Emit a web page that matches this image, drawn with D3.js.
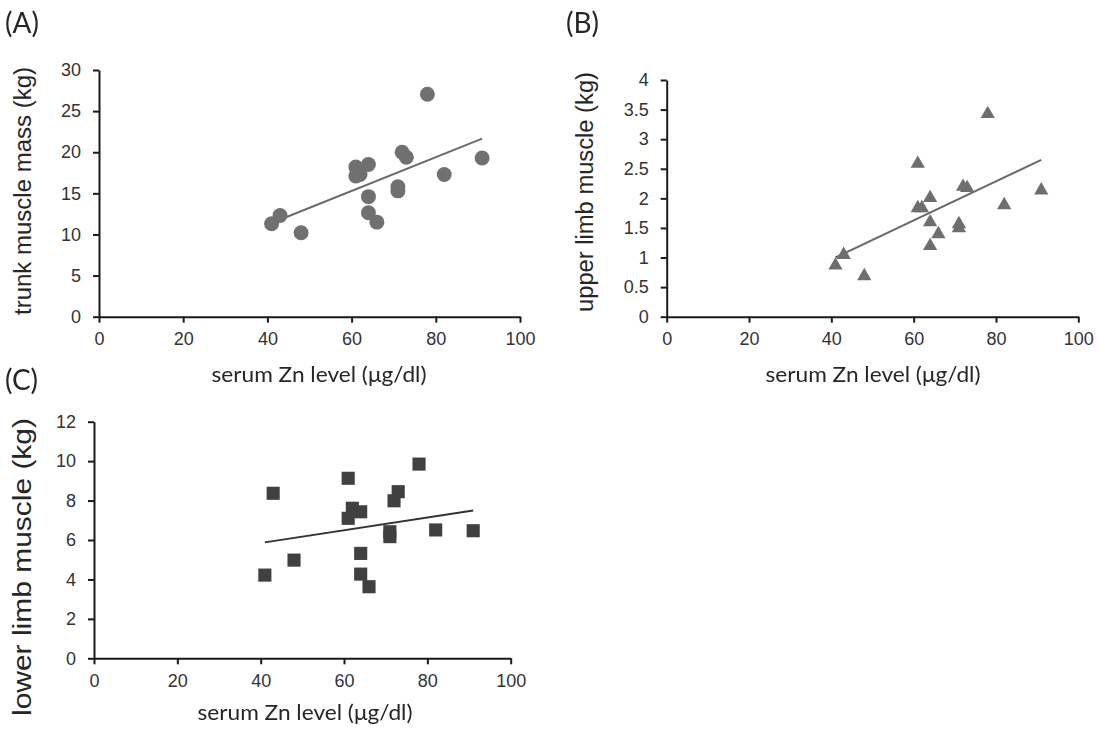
<!DOCTYPE html>
<html>
<head>
<meta charset="utf-8">
<script src="https://cdn.jsdelivr.net/npm/d3@7"></script>
<style>
  body { margin: 0; background: #fff; }
  .eje text { font-family: "Liberation Sans", Arial, sans-serif; font-size: 18px; fill: #333; }
  .eje path, .eje line { stroke: #1a1a1a; stroke-width: 2px; }
</style>
</head>
<body>
<div id="figura"></div>
<script>
/////////// DATOS /////////
// serum Zn level (x) comun a los tres paneles
var zn = [41, 43, 48, 61, 61, 62, 64, 64, 64, 66, 71, 71, 72, 73, 78, 82, 91];

// (A) trunk muscle mass (kg)
var trunk = [11.3, 12.3, 10.2, 18.2, 17.1, 17.3, 18.5, 14.6, 12.65, 11.5, 15.8, 15.3, 20.0, 19.4, 27.05, 17.3, 19.3];
// (B) upper limb muscle (kg)
var upper = [0.90, 1.08, 0.72, 2.62, 1.87, 1.87, 2.04, 1.63, 1.23, 1.43, 1.60, 1.53, 2.23, 2.21, 3.46, 1.92, 2.17];
// (C) lower limb muscle (kg)
var lower = [4.22, 8.37, 4.98, 9.13, 7.10, 7.61, 7.43, 5.32, 4.27, 3.63, 6.42, 6.17, 7.99, 8.45, 9.85, 6.51, 6.47];

// lineas de tendencia (extremos)
var trendX = [41, 91];
var trendA = [11.4, 21.65];
var trendB = [1.0, 2.65];
var trendC = [5.88, 7.5];

// ticks
var xTicks = [0, 20, 40, 60, 80, 100];
var yTicksA = [0, 5, 10, 15, 20, 25, 30];
var yTicksB = [0, 0.5, 1, 1.5, 2, 2.5, 3, 3.5, 4];
var yTicksC = [0, 2, 4, 6, 8, 10, 12];

var xTitle = "serum Zn level (\u03bcg/dl)";

/////////// SVG /////////
var svg = d3.select("#figura").append("svg")
  .attr("width", 1103)
  .attr("height", 735);

var defs = svg.append("defs");
defs.append("filter").attr("id", "suave")
  .attr("x", "-30%").attr("y", "-30%").attr("width", "160%").attr("height", "160%")
  .append("feGaussianBlur").attr("stdDeviation", 0.6);

/////////// PANELES /////////
var paneles = [
  { id: "(A)", lx: 5, ly: 33,
    xr: [99, 520], yr: [316.7, 70], ymax: 30, yTicks: yTicksA, ys: trunk, trend: trendA,
    yTitle: "trunk muscle mass (kg)", ytx: 31, yty: 191, ytLen: 248, ytSize: 23,
    xtx: 319, xty: 382,
    symbol: d3.symbolCircle, size: 175, fill: "#707070", dy: 0, line: "#6a6a6a" },
  { id: "(B)", lx: 566, ly: 33,
    xr: [666.7, 1078.3], yr: [316.7, 80], ymax: 4, yTicks: yTicksB, ys: upper, trend: trendB,
    yTitle: "upper limb muscle (kg)", ytx: 593, yty: 192, ytLen: 240, ytSize: 23,
    xtx: 873, xty: 382,
    symbol: d3.symbolTriangle, size: 88, fill: "#6e6e6e", dy: 2, line: "#6a6a6a" },
  { id: "(C)", lx: 5, ly: 390,
    xr: [94, 510.7], yr: [658.3, 421.7], ymax: 12, yTicks: yTicksC, ys: lower, trend: trendC,
    yTitle: "lower limb muscle (kg)", ytx: 31, yty: 567, ytLen: 298, ytSize: 25,
    xtx: 305, xty: 720,
    symbol: d3.symbolSquare, size: 172, fill: "#404040", dy: 0, line: "#333" }
];

paneles.forEach(function(p) {

  // Escalas
  var x = d3.scaleLinear().domain([0, 100]).range(p.xr);
  var y = d3.scaleLinear().domain([0, p.ymax]).range(p.yr);

  // Eje X
  svg.append("g")
    .attr("class", "eje")
    .attr("transform", "translate(0," + p.yr[0] + ")")
    .call(d3.axisBottom(x).tickValues(xTicks).tickSize(6).tickSizeOuter(0).tickPadding(10).tickFormat(String));

  // Eje Y
  svg.append("g")
    .attr("class", "eje")
    .attr("transform", "translate(" + p.xr[0] + ",0)")
    .call(d3.axisLeft(y).tickValues(p.yTicks).tickSize(6).tickSizeOuter(0).tickPadding(12).tickFormat(String));

  // Linea de tendencia
  svg.append("path")
    .datum(d3.zip(trendX, p.trend))
    .attr("fill", "none")
    .attr("stroke", p.line)
    .attr("stroke-width", 2)
    .attr("d", d3.line()
      .x(function(d) { return x(d[0]); })
      .y(function(d) { return y(d[1]); }));

  // Puntos
  svg.append("g")
    .attr("filter", "url(#suave)")
    .selectAll("path")
    .data(d3.zip(zn, p.ys))
    .enter()
    .append("path")
      .attr("d", d3.symbol().type(p.symbol).size(p.size))
      .attr("transform", function(d) { return "translate(" + x(d[0]) + "," + (y(d[1]) + p.dy) + ")"; })
      .attr("fill", p.fill);

  // Titulo eje Y
  svg.append("text")
    .attr("transform", "translate(" + p.ytx + "," + p.yty + ") rotate(-90)")
    .attr("text-anchor", "middle")
    .attr("font-family", "Liberation Sans, Arial, sans-serif")
    .attr("font-size", p.ytSize + "px")
    .attr("fill", "#262626")
    .attr("textLength", p.ytLen)
    .attr("lengthAdjust", "spacingAndGlyphs")
    .text(p.yTitle);

  // Titulo eje X
  svg.append("text")
    .attr("x", p.xtx)
    .attr("y", p.xty)
    .attr("text-anchor", "middle")
    .attr("font-family", "Lato, sans-serif")
    .attr("font-size", "21px")
    .attr("fill", "#262626")
    .attr("textLength", 215)
    .attr("lengthAdjust", "spacingAndGlyphs")
    .text(xTitle);

  // Etiqueta del panel
  svg.append("text")
    .attr("x", p.lx)
    .attr("y", p.ly)
    .attr("font-family", "Lato, sans-serif")
    .attr("font-size", "28px")
    .attr("fill", "#262626")
    .text(p.id);
});
</script>
</body>
</html>
